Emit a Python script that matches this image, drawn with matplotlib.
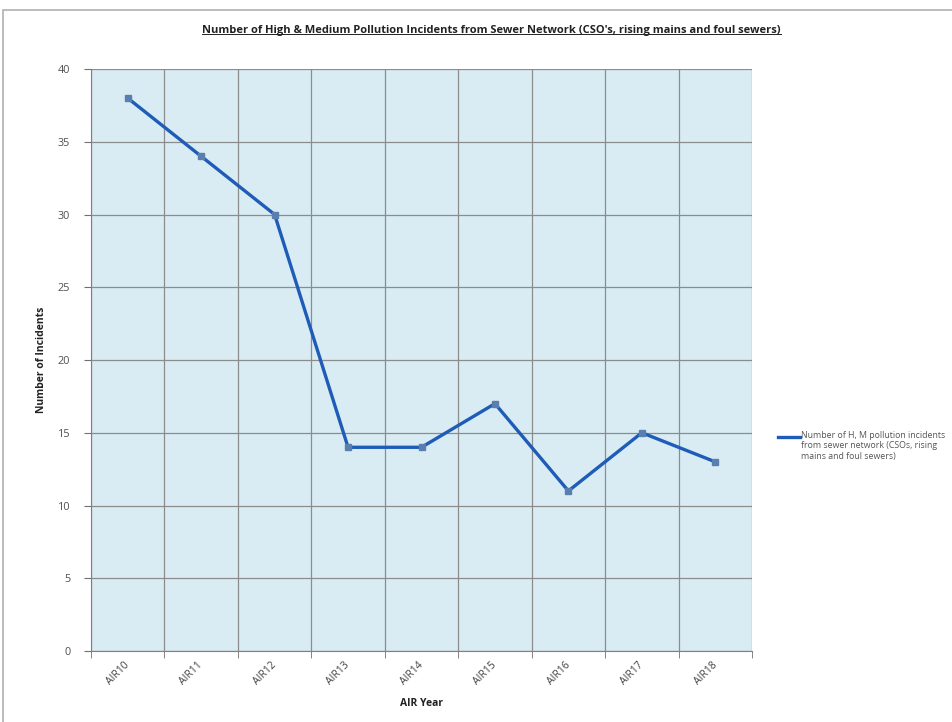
import matplotlib
matplotlib.use("Agg")
import matplotlib.pyplot as plt
from matplotlib.patches import Rectangle
from matplotlib.lines import Line2D
import numpy as np

categories = ["AIR10", "AIR11", "AIR12", "AIR13", "AIR14", "AIR15", "AIR16", "AIR17", "AIR18"]
incidents = [38, 34, 30, 14, 14, 17, 11, 15, 13]
series_label = "Number of H, M pollution incidents\nfrom sewer network (CSOs, rising\nmains and foul sewers)"
title = "Number of High & Medium Pollution Incidents from Sewer Network (CSO's, rising mains and foul sewers)"

plt.rcParams['font.family'] = ['Open Sans', 'DejaVu Sans']

W, H = 952, 722
fig = plt.figure(figsize=(W / 100, H / 100), dpi=100)
fig.patch.set_facecolor("white")

# outer chart border
fig.patches.append(Rectangle((3 / W, -0.1), 1.2, 1.1 - 10 / H, transform=fig.transFigure,
                             fill=False, edgecolor="#b0b0b0", linewidth=1.2, zorder=0))

ax = fig.add_axes([91 / W, (H - 651) / H, (752 - 91) / W, (651 - 69) / H])
ax.set_facecolor("#d9ecf4")

x = np.arange(len(categories))
ax.plot(x, incidents, color="#1f5cb8", linewidth=2.4, marker="s", markersize=4,
        markerfacecolor="#5a7fae", markeredgecolor="#5a7fae", zorder=3)

ax.set_xlim(-0.5, len(categories) - 0.5)
ax.set_ylim(0, 40)
ax.set_yticks(np.arange(0, 41, 5))
ax.set_xticks(x)
ax.set_xticklabels(categories, rotation=45, fontsize=7.5, color="#404040",
                   rotation_mode="anchor", ha="right", va="center")
ax.set_xticks(np.arange(-0.5, len(categories), 1), minor=True)
ax.tick_params(axis="x", which="major", length=0, pad=9)
ax.tick_params(axis="x", which="minor", length=5, color="#707070", direction="out")
ax.tick_params(axis="y", length=5, color="#707070", labelsize=7.8, labelcolor="#505050", pad=10)
ax.grid(True, axis="y", which="major", color="#8c8c8c", linewidth=0.9)
ax.grid(True, axis="x", which="minor", color="#8c8c8c", linewidth=0.9)
ax.set_axisbelow(True)
for s in ["top", "right"]:
    ax.spines[s].set_visible(False)
for s in ["left", "bottom"]:
    ax.spines[s].set_color("#808080")

ax.set_xlabel("AIR Year", fontsize=7.5, fontweight="bold", color="#222222", labelpad=8)
ax.set_ylabel("Number of Incidents", fontsize=7.5, fontweight="bold", color="#222222", labelpad=8)

t = fig.text(0.5 * (200 + 783) / W, 1 - 30 / H, title, ha="center", va="center",
             fontsize=8.0, fontweight="bold", color="#222222")

# legend-like entry at right
fig.add_artist(Line2D([778 / W, 800 / W], [1 - 437 / H, 1 - 437 / H], transform=fig.transFigure,
                      color="#1f5cb8", linewidth=2.4))
fig.text(801 / W, 1 - 431 / H, series_label, ha="left", va="top", fontsize=6.3,
         color="#555555", linespacing=1.2)

# underline title
fig.canvas.draw()
bb = t.get_window_extent(renderer=fig.canvas.get_renderer())
inv = fig.transFigure.inverted()
(x0, y0), (x1, y1) = inv.transform([(bb.x0, bb.y0), (bb.x1, bb.y1)])
fig.add_artist(Line2D([x0, x1], [y0 + 1.5 / H, y0 + 1.5 / H], transform=fig.transFigure,
                      color="#222222", linewidth=0.7))

fig.savefig("out.png", dpi=100)
